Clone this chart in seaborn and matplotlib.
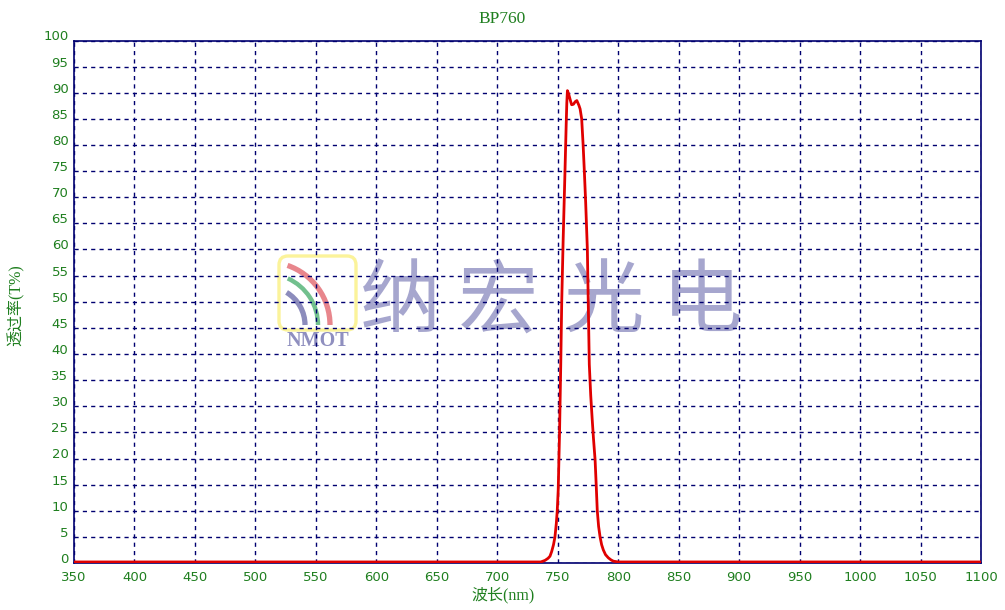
import numpy as np
import pandas as pd
import matplotlib
matplotlib.use("Agg")
import matplotlib.pyplot as plt
from matplotlib.patches import Arc, FancyBboxPatch
import seaborn as sns

# ---------------- data ----------------
wavelength = [350, 736, 739.5, 742, 743.6, 745, 746.5, 747.7, 748.8, 749.6, 750.4,
              751.5, 752.5, 753.3, 754.5, 756, 757, 757.5, 758, 759, 760.5, 761.5,
              763, 764.5, 765.8, 767.5, 768.5, 769.8, 771, 772, 773.1, 774.5, 775.3,
              776.1, 777.3, 778.5, 779.5, 780.9, 781.8, 782.7, 783.8, 785, 786.3,
              787.7, 789.5, 791.8, 794, 796, 800, 1100]
transmission = [0.2, 0.2, 0.5, 0.9, 1.3, 2.2, 3.5, 5, 7.5, 10, 14,
                25, 38, 50, 62, 75, 84, 88, 90.4, 89.8, 88.5, 87.7,
                87.8, 88.3, 88.5, 87.6, 86.9, 85, 80, 75, 69, 60, 49,
                38, 32, 27.5, 24, 19.7, 15, 10, 7, 5, 3.5,
                2.5, 1.6, 1.0, 0.6, 0.35, 0.2, 0.2]
x_ticks = list(range(350, 1101, 50))
y_ticks = list(range(0, 101, 5))
title_text = "BP760"
x_label = "波长(nm)"
y_label = "透过率(T%)"
watermark_chars = ["纳", "宏", "光", "电"]
logo_text = "NMOT"

df = pd.DataFrame({"wavelength": wavelength, "T": transmission})

# ---------------- style ----------------
sns.set_style("white")
plt.rcParams["font.family"] = ["DejaVu Sans", "Noto Sans CJK SC"]

GREEN = "#1f7f1f"
NAVY = "#000070"
RED = "#e00000"
WM = "#a6a6ce"

W, H = 1005, 610
fig = plt.figure(figsize=(W / 100, H / 100), dpi=100, facecolor="white")

# background watermark layer (pixel coordinates, y measured from top)
bg = fig.add_axes([0, 0, 1, 1], zorder=-1)
bg.set_xlim(0, W)
bg.set_ylim(0, H)
bg.axis("off")

def py(y):
    return H - y

# logo box
box = FancyBboxPatch((279, py(330)), 77, 74, boxstyle="round,pad=0,rounding_size=9",
                     fill=False, ec="#fbf39a", lw=2.4)
bg.add_patch(box)
cx, cy = 267, py(325)
bg.add_patch(Arc((cx, cy), 2 * 63, 2 * 63, theta1=0, theta2=71, color="#e8868c", lw=3.8))
bg.add_patch(Arc((cx, cy), 2 * 51, 2 * 51, theta1=0, theta2=66, color="#72c08e", lw=3.2))
bg.add_patch(Arc((cx, cy), 2 * 38, 2 * 38, theta1=0, theta2=59, color="#8c8cbc", lw=3.8))
bg.text(318, py(341), logo_text, ha="center", va="center", fontsize=14.5,
        family="Liberation Serif", weight="bold", color="#8f8fbf")
for ch, xc in zip(watermark_chars, [400, 498, 603, 702]):
    bg.text(xc, py(303), ch, ha="center", va="center", fontsize=58,
            family="Noto Sans CJK SC", weight="light", color=WM)

# ---------------- main axes ----------------
left, right, top, bottom = 74, 981, 40.5, 563
ax = fig.add_axes([left / W, (H - bottom) / H, (right - left) / W, (bottom - top) / H], zorder=0)
ax.set_facecolor("none")

sns.lineplot(data=df, x="wavelength", y="T", ax=ax, color=RED, lw=2.0, zorder=5)

ax.set_xlim(350, 1100)
ax.set_ylim(0, 100)
ax.set_xticks(x_ticks)
ax.set_yticks(y_ticks)
ax.set_xticklabels([str(v) for v in x_ticks])
ax.set_yticklabels([str(v) for v in y_ticks], va="baseline")
ax.tick_params(axis="both", length=0, colors=GREEN, labelsize=9.5)
ax.tick_params(axis="x", pad=6)
ax.tick_params(axis="y", pad=4)

ax.grid(True, color=NAVY, ls=(0, (3, 3)), lw=1.0)
for s in ax.spines.values():
    s.set_visible(True)
    s.set_color(NAVY)
    s.set_linewidth(1.2)

ax.set_xlabel("")
ax.set_ylabel("")
fig.text(503 / W, 1 - 595 / H, x_label, ha="center", va="center", fontsize=11.5,
         family=["Liberation Serif", "Noto Sans CJK SC"], color=GREEN)
fig.text(16 / W, 1 - 305 / H, y_label, ha="center", va="center", rotation=90,
         fontsize=11.5, family=["Liberation Serif", "Noto Sans CJK SC"], color=GREEN)
fig.text(502 / W, 1 - 19 / H, title_text, ha="center", va="center", fontsize=12.5,
         family="Liberation Serif", color=GREEN)

fig.savefig("out.png", dpi=100, facecolor="white")
